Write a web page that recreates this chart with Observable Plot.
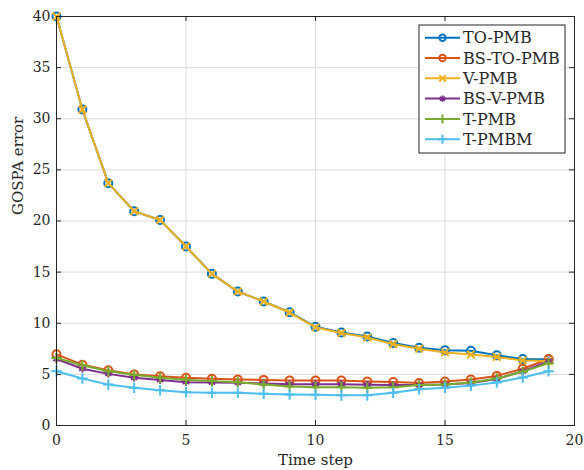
<!DOCTYPE html>
<html>
<head>
<meta charset="utf-8">
<script src="https://cdn.jsdelivr.net/npm/d3@7"></script>
<script src="https://cdn.jsdelivr.net/npm/@observablehq/plot@0.6"></script>
<style>
  html, body { margin: 0; padding: 0; background: #fff; }
  svg { display: block; }
</style>
</head>
<body>
<div id="chart"></div>
<script>
const timeSteps = d3.range(0, 20);
const xTicks = [0, 5, 10, 15, 20];
const yTicks = [0, 5, 10, 15, 20, 25, 30, 35, 40];
const xLabel = "Time step";
const yLabel = "GOSPA error";

const seriesNames = ["TO-PMB", "BS-TO-PMB", "V-PMB", "BS-V-PMB", "T-PMB", "T-PMBM"];
const seriesColors = ["#0072BD", "#D95319", "#EDB120", "#7E2F8E", "#77AC30", "#4DBEEE"];
const seriesSymbols = ["circle", "circle", "times", "asterisk", "plus", "plus"];

const toPMB   = [40, 30.9, 23.7, 20.95, 20.1, 17.5, 14.83, 13.1, 12.13, 11.08, 9.65, 9.1, 8.7, 8.07, 7.6, 7.35, 7.3, 6.86, 6.5, 6.47];
const bsToPMB = [6.96, 5.95, 5.4, 5.0, 4.82, 4.66, 4.56, 4.5, 4.46, 4.4, 4.4, 4.4, 4.3, 4.25, 4.15, 4.3, 4.5, 4.85, 5.55, 6.5];
const vPMB    = [40, 30.9, 23.7, 20.95, 20.1, 17.5, 14.83, 13.1, 12.13, 11.05, 9.6, 9.05, 8.6, 7.95, 7.5, 7.15, 6.95, 6.7, 6.35, 6.3];
const bsVPMB  = [6.5, 5.55, 5.05, 4.67, 4.45, 4.24, 4.2, 4.17, 4.1, 4.04, 4.04, 4.03, 3.98, 3.95, 3.95, 4.0, 4.15, 4.55, 5.3, 6.3];
const tPMB    = [6.6, 5.9, 5.3, 4.97, 4.67, 4.47, 4.34, 4.24, 4.0, 3.82, 3.75, 3.75, 3.7, 3.75, 3.95, 4.0, 4.2, 4.6, 5.25, 6.1];
const tPMBM   = [5.3, 4.6, 4.0, 3.7, 3.45, 3.26, 3.2, 3.2, 3.1, 3.03, 3.0, 2.95, 2.95, 3.2, 3.55, 3.7, 3.9, 4.2, 4.7, 5.3];

const seriesValues = [toPMB, bsToPMB, vPMB, bsVPMB, tPMB, tPMBM];

const W = 584, H = 470;
const margin = {top: 16, right: 10, bottom: 45, left: 56};
const innerH = H - margin.top - margin.bottom;
const innerW = W - margin.left - margin.right;
const axisColor = "#262626";
const fontFamily = "'DejaVu Serif', 'Liberation Serif', serif";

const marks = [
  Plot.gridX(xTicks, {stroke: "#dcdcdc", strokeOpacity: 1, strokeWidth: 1}),
  Plot.gridY(yTicks, {stroke: "#dcdcdc", strokeOpacity: 1, strokeWidth: 1}),
  Plot.axisX(xTicks, {tickSize: 0, tickPadding: 10, fontSize: 14, color: axisColor, label: null}),
  Plot.axisY(yTicks, {tickSize: 0, tickPadding: 6, fontSize: 14, color: axisColor, label: null}),
  Plot.text([xLabel], {text: d => d, frameAnchor: "bottom", dy: 39, fontSize: 15, fill: axisColor}),
  Plot.text([yLabel], {text: d => d, frameAnchor: "left", dx: -38, dy: -6, rotate: -90, fontSize: 15, fill: axisColor}),
];

seriesNames.forEach((name, i) => {
  const data = timeSteps.map((t, j) => ({t, v: seriesValues[i][j]}));
  marks.push(Plot.line(data, {x: "t", y: "v", stroke: seriesColors[i], strokeWidth: 2}));
  marks.push(Plot.dot(data, {x: "t", y: "v", stroke: seriesColors[i], strokeWidth: 2,
    symbol: seriesSymbols[i], r: seriesSymbols[i] === "circle" ? 4 : 3.5, fill: "none"}));
});

marks.push(
  Plot.tickX(xTicks, {x: d => d, stroke: axisColor, insetTop: innerH - 5}),
  Plot.tickX(xTicks, {x: d => d, stroke: axisColor, insetBottom: innerH - 5}),
  Plot.tickY(yTicks, {y: d => d, stroke: axisColor, insetRight: innerW - 5}),
  Plot.tickY(yTicks, {y: d => d, stroke: axisColor, insetLeft: innerW - 5}),
  Plot.frame({stroke: axisColor, strokeWidth: 1})
);

const chart = Plot.plot({
  width: W,
  height: H,
  marginTop: margin.top,
  marginRight: margin.right,
  marginBottom: margin.bottom,
  marginLeft: margin.left,
  style: {fontFamily, fontSize: "14px", color: axisColor, background: "#fff"},
  x: {domain: [0, 20]},
  y: {domain: [0, 40]},
  marks
});

document.getElementById("chart").appendChild(chart);

// Legend inside the axes (top-right)
const svg = d3.select(chart);
const lg = svg.append("g").attr("transform", "translate(419,25)");
lg.append("rect").attr("width", 146).attr("height", 128)
  .attr("fill", "#fff").attr("stroke", axisColor).attr("stroke-width", 1);
const symMap = {circle: d3.symbolCircle, times: d3.symbolTimes, asterisk: d3.symbolAsterisk, plus: d3.symbolPlus};
seriesNames.forEach((name, i) => {
  const y = 12.7 + i * 20.3;
  const row = lg.append("g").attr("transform", `translate(0,${y})`);
  row.append("line").attr("x1", 6).attr("x2", 41).attr("y1", 0).attr("y2", 0)
    .attr("stroke", seriesColors[i]).attr("stroke-width", 2);
  const r = seriesSymbols[i] === "circle" ? 3.2 : 3;
  row.append("path").attr("transform", "translate(23.5,0)")
    .attr("d", d3.symbol(symMap[seriesSymbols[i]], Math.PI * r * r)())
    .attr("fill", "none").attr("stroke", seriesColors[i]).attr("stroke-width", 2);
  row.append("text").attr("x", 44).attr("y", 0).attr("dy", "0.36em")
    .attr("text-anchor", "start")
    .attr("font-family", fontFamily).attr("font-size", 16).attr("fill", axisColor)
    .text(name);
});
</script>
</body>
</html>
